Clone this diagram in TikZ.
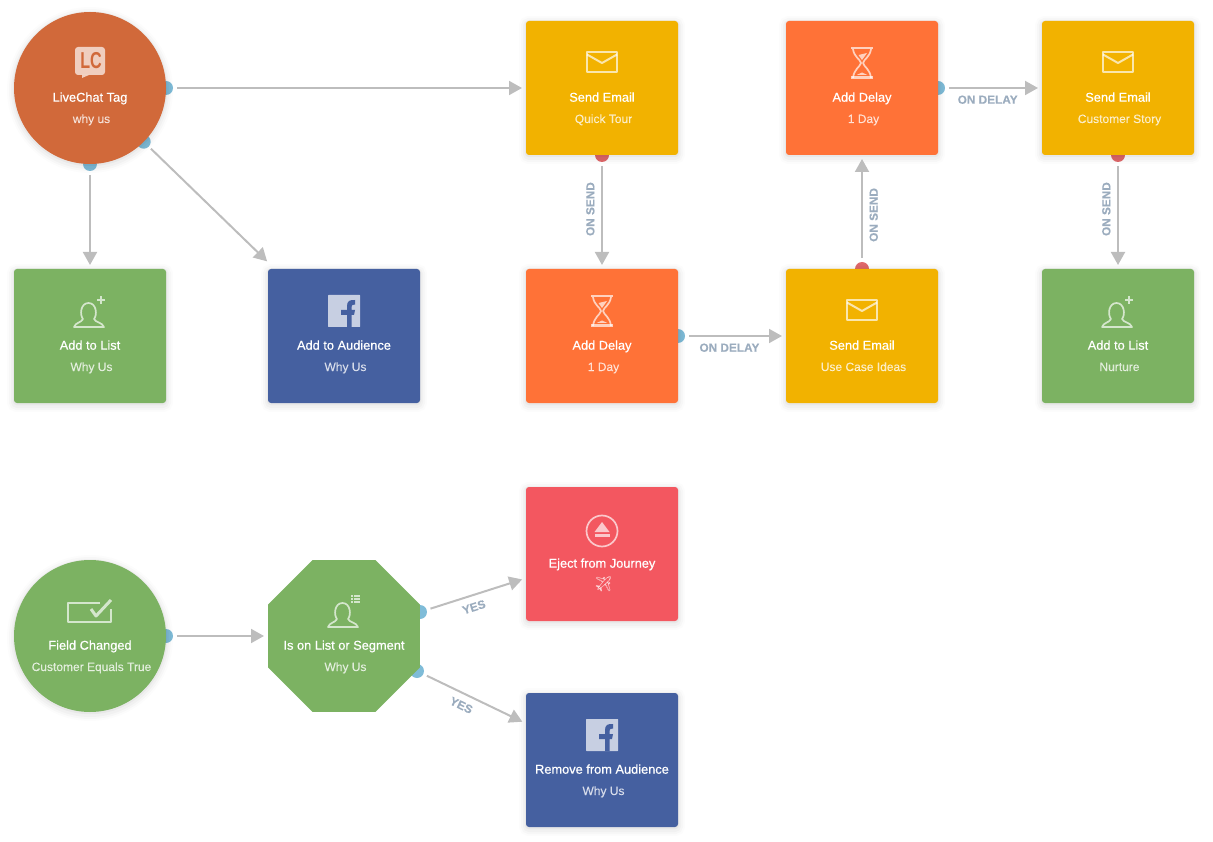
\documentclass[tikz,border=0pt]{standalone}
\usepackage{fontspec}
\setmainfont{Liberation Sans}
\setsansfont{Liberation Sans}
\newfontfamily\titlefont[FakeBold=0.5]{Liberation Sans}
\newfontfamily\subfont[FakeBold=0.1]{Liberation Sans}
\newfontfamily\labelfont[FakeBold=0.2]{Liberation Sans Bold}
\newfontfamily\emojifont{Noto Emoji}
\usepackage{xcolor}
\usetikzlibrary{arrows.meta, positioning, shapes.geometric, backgrounds}

\definecolor{tagorange}{RGB}{209,105,58}
\definecolor{listgreen}{RGB}{124,178,98}
\definecolor{fbblue}{RGB}{69,96,160}
\definecolor{mailyellow}{RGB}{242,178,0}
\definecolor{delayorange}{RGB}{255,114,55}
\definecolor{ejectred}{RGB}{243,87,96}
\definecolor{portblue}{RGB}{127,188,216}
\definecolor{portred}{RGB}{224,105,107}
\definecolor{linegray}{RGB}{189,189,189}
\definecolor{labelgray}{RGB}{155,172,190}

\newcommand{\nodetext}[4]{
    \pic at (#1.center) {#2};
    \node[titletext] (#1title) at ([yshift=-13.7pt]#1.center) {#3};
    \node[subtext] (#1sub) at ([xshift=1.5pt,yshift=-35pt]#1.center) {#4};
}

\tikzset{
    iconline/.style={draw=white, draw opacity=.68, line width=1.7pt, line join=round},
    iconfill/.style={fill=white, fill opacity=.68},
    pics/mailicon/.style={code={
        \draw[iconline, line width=2pt] (-15,-36) rectangle (15,-16);
        \draw[iconline, line width=2pt] (-15,-33.5) -- (0,-25) -- (15,-33.5);
    }},
    pics/hourglassicon/.style={code={
        \fill[iconfill] (-11,-41) rectangle (11,-38.5);
        \fill[iconfill] (-11,-11.5) rectangle (11,-9);
        \draw[iconline] (-9,-39) .. controls (-8,-31) and (-2,-29) .. (-1,-25) .. controls (-2,-21) and (-8,-19) .. (-9,-10);
        \draw[iconline] (9,-39) .. controls (8,-31) and (2,-29) .. (1,-25) .. controls (2,-21) and (8,-19) .. (9,-10);
        \fill[iconfill] (-3.5,-33) -- (5,-35) -- (0,-28) -- cycle;
        \fill[iconfill] (-5.5,-13) -- (0,-15.5) -- (5.5,-13) -- cycle;
    }},
    pics/personicon/.style={code={
        \draw[iconline] (-16,-9) -- (14,-9) .. controls (12,-14) and (6,-13) .. (4,-17)
            .. controls (7.5,-21) and (6.5,-33) .. (-1.5,-33)
            .. controls (-9.5,-33) and (-10.5,-21) .. (-7,-17)
            .. controls (-9,-13) and (-14,-14) .. (-16,-9) -- cycle;
    }},
    pics/addlisticon/.style={code={
        \pic {personicon};
        \draw[iconline] (11,-40) -- (11,-32) (7,-36) -- (15,-36);
    }},
    pics/segmenticon/.style={code={
        \pic {personicon};
        \foreach \row in {-40,-37,-34} {
            \fill[iconfill] (7,\row-1) rectangle (9,\row+1);
            \fill[iconfill] (10,\row-1) rectangle (16,\row+1);
        }
    }},
    pics/fbicon/.style={code={
        \fill[iconfill, fill opacity=.7, rounded corners=.5pt] (-16,-41) rectangle (16,-9);
        \fill[fbblue] (3,-9) -- (3,-21) -- (-3,-21) -- (-3,-26) -- (3,-26) -- (3,-30)
            .. controls (3,-35) and (6,-36.5) .. (11,-36) -- (11,-31.5) .. controls (8.5,-31.5) and (7.5,-31) .. (7.5,-29)
            -- (7.5,-26) -- (11,-26) -- (10,-21) -- (7.5,-21) -- (7.5,-9) -- cycle;
    }},
    pics/ejecticon/.style={code={
        \draw[iconline] (0,-23) circle (15.5);
        \fill[iconfill] (-7.5,-22) -- (0,-32) -- (7.5,-22) -- cycle;
        \fill[iconfill] (-7.5,-20) rectangle (7.5,-17.5);
    }},
    pics/checkicon/.style={code={
        \draw[iconline, line width=2pt] (10,-33) -- (-22,-33) -- (-22,-14) -- (21,-14) -- (21,-27);
        \draw[iconline, line width=3pt] (1,-27) -- (6,-20) -- (21,-36);
    }},
    pics/lcicon/.style={code={
        \fill[iconfill, rounded corners=3pt] (-15,-41) rectangle (15,-13);
        \fill[iconfill] (-8,-13) -- (-8,-10) -- (-1,-13) -- cycle;
        \node[font=\bfseries\fontsize{23}{23}\selectfont, text=tagorange, inner sep=0pt, xscale=.7] (lcmark) at (1,-27) {LC};
    }},
}

\begin{document}
\begin{tikzpicture}[
    x=1pt, y=-1pt,
    softshadow/.style={
        preaction={draw=black, draw opacity=.012, line width=14pt, transform canvas={yshift=-2pt}},
        preaction={draw=black, draw opacity=.018, line width=10pt, transform canvas={yshift=-2pt}},
        preaction={draw=black, draw opacity=.025, line width=6pt, transform canvas={yshift=-2pt}},
        preaction={draw=black, draw opacity=.035, line width=2.5pt, transform canvas={yshift=-1pt}}
    },
    stepbox/.style={
        softshadow,
        minimum width=152pt,
        minimum height=134pt,
        inner sep=0pt,
        outer sep=0pt,
        rounded corners=3pt
    },
    startcircle/.style={
        softshadow,
        circle,
        minimum size=152pt,
        inner sep=0pt,
        outer sep=0pt
    },
    checkgon/.style={
        regular polygon,
        regular polygon sides=8,
        minimum size=164.5pt,
        inner sep=0pt,
        outer sep=0pt,
        fill=listgreen
    },
    mailbox/.style={stepbox, fill=mailyellow},
    delaybox/.style={stepbox, fill=delayorange},
    listbox/.style={stepbox, fill=listgreen},
    fbbox/.style={stepbox, fill=fbblue},
    ejectbox/.style={stepbox, fill=ejectred},
    titletext/.style={font=\titlefont\fontsize{12.8}{14}\selectfont, text=white, anchor=base, inner sep=0pt},
    subtext/.style={font=\subfont\fontsize{12}{14}\selectfont, text=white, text opacity=.75, anchor=base, inner sep=0pt},
    blueport/.style={circle, fill=portblue, minimum size=14pt, inner sep=0pt, outer sep=0pt},
    redport/.style={circle, fill=portred, minimum size=14pt, inner sep=0pt, outer sep=0pt},
    flow/.style={
        -{Triangle[length=13pt,width=14pt]},
        color=linegray,
        line width=2pt,
        shorten <=4pt,
        shorten >=4pt
    },
    flowlabel/.style={font=\labelfont\fontsize{11.8}{12}\selectfont, text=labelgray, inner sep=6.5pt}
]
\useasboundingbox (0,0) rectangle (1213,842);

% Upper journey
\node[startcircle, fill=tagorange] (tag) at (90,88) {};
\node[listbox, below=105pt of tag] (whylist) {};
\node[fbbox, right=102pt of whylist] (whyaudience) {};
\node[delaybox, right=106pt of whyaudience] (firstdelay) {};
\node[mailbox, above=114pt of firstdelay] (tourmail) {};
\node[mailbox, right=108pt of firstdelay] (ideasmail) {};
\node[delaybox, above=114pt of ideasmail] (seconddelay) {};
\node[mailbox, right=104pt of seconddelay] (storymail) {};
\node[listbox, below=114pt of storymail] (nurturelist) {};

% Lower journey
\node[startcircle, fill=listgreen] (fieldchange) at (90,636) {};
\node[checkgon, right=102pt of fieldchange] (segmentcheck) {};
\node[ejectbox] (ejectjourney) at (602,554) {};
\node[fbbox, below=72pt of ejectjourney] (removeaudience) {};

% Texts and icons
\nodetext{tag}{lcicon}{LiveChat Tag}{why us}
\nodetext{whylist}{addlisticon}{Add to List}{Why Us}
\nodetext{whyaudience}{fbicon}{Add to Audience}{Why Us}
\nodetext{firstdelay}{hourglassicon}{Add Delay}{1 Day}
\nodetext{tourmail}{mailicon}{Send Email}{Quick Tour}
\nodetext{ideasmail}{mailicon}{Send Email}{Use Case Ideas}
\nodetext{seconddelay}{hourglassicon}{Add Delay}{1 Day}
\nodetext{storymail}{mailicon}{Send Email}{Customer Story}
\nodetext{nurturelist}{addlisticon}{Add to List}{Nurture}
\nodetext{fieldchange}{checkicon}{Field Changed}{Customer Equals True}
\nodetext{segmentcheck}{segmenticon}{Is on List or Segment}{Why Us}
\nodetext{ejectjourney}{ejecticon}{Eject from Journey}{\emojifont\fontsize{15}{15}\selectfont ✈}
\nodetext{removeaudience}{fbicon}{Remove from Audience}{Why Us}

% Ports
\begin{scope}[on background layer]
    \node[blueport] (tagright) at (tag.east) {};
    \node[blueport] (tagcorner) at (tag.-45) {};
    \node[blueport] (tagbottom) at (tag.south) {};
    \node[redport] (tourport) at (tourmail.south) {};
    \node[blueport] (firstdelayport) at (firstdelay.east) {};
    \node[redport] (ideasport) at (ideasmail.north) {};
    \node[blueport] (seconddelayport) at (seconddelay.east) {};
    \node[redport] (storyport) at (storymail.south) {};
    \node[blueport] (fieldport) at (fieldchange.east) {};
    \node[blueport] (yesupper) at ([yshift=24pt]segmentcheck.east) {};
    \node[blueport] (yeslower) at ([xshift=-3pt,yshift=-35pt]segmentcheck.east) {};
\end{scope}

% Transitions
\path[flow]
    (tagright) edge (tourmail)
    (tagbottom) edge (whylist)
    (tagcorner) edge [shorten <=3pt, shorten >=11pt] (whyaudience)
    (tourport) edge node[flowlabel, rotate=90, anchor=south, pos=.44] {ON SEND} (firstdelay)
    (firstdelayport) edge node[flowlabel, below, pos=.44] {ON DELAY} (ideasmail)
    (ideasport) edge node[flowlabel, rotate=90, anchor=north, pos=.44] {ON SEND} (seconddelay)
    (seconddelayport) edge node[flowlabel, below, pos=.44] {ON DELAY} (storymail)
    (storyport) edge node[flowlabel, rotate=90, anchor=south, pos=.44] {ON SEND} (nurturelist)
    (fieldport) edge (segmentcheck)
    (yesupper) edge node[flowlabel, sloped, below, pos=.44] {YES} (ejectjourney)
    (yeslower) edge node[flowlabel, sloped, below, pos=.42] {YES} (removeaudience);
\end{tikzpicture}
\end{document}
